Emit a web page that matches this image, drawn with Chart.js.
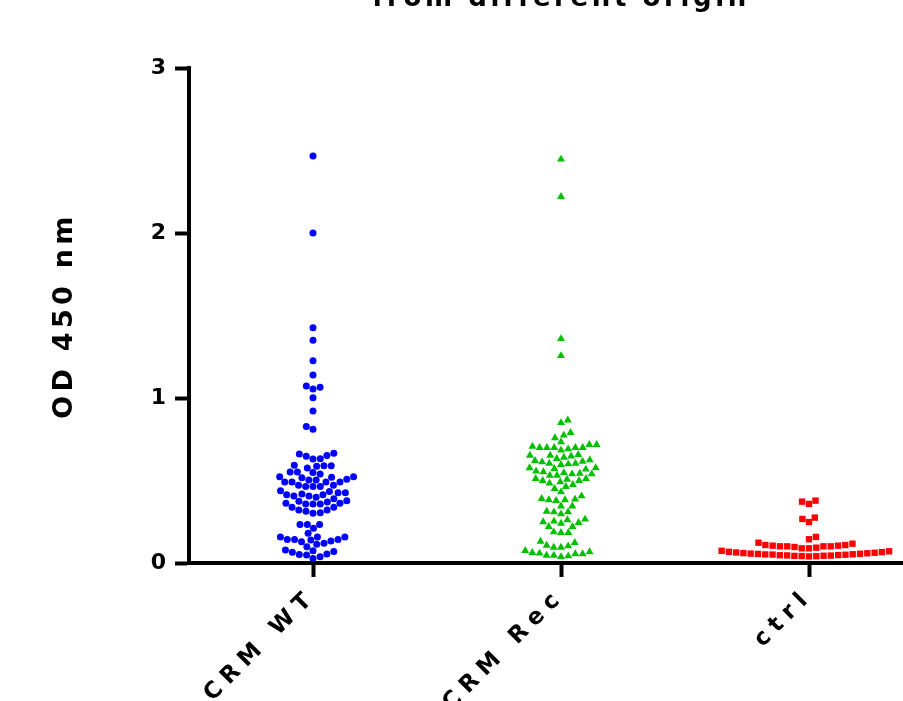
<!DOCTYPE html>
<html lang="en">
<head>
<meta charset="UTF-8">
<title>OD 450 nm from different origin</title>
<script src="https://cdn.jsdelivr.net/npm/chart.js@4"></script>
<style>
  html, body {
    margin: 0;
    padding: 0;
    width: 903px;
    height: 701px;
    overflow: hidden;
    background: #fff;
  }
  .chart-box {
    position: absolute;
    left: 0;
    top: -40px;
    width: 950px;
    height: 780px;
  }
</style>
</head>
<body>
<div class="chart-box"><canvas id="swarm"></canvas></div>
<script>
// groups on the x axis
const categories = ['CRM WT', 'CRM Rec', 'ctrl'];
const yTicks = [0, 1, 2, 3];

// OD readings
const crmWT = [
  2.467, 2.000, 1.426, 1.350, 1.226, 1.139, 1.065, 1.055, 1.073, 1.002, 0.921,
  0.828, 0.810,
  0.665, 0.651, 0.632, 0.630, 0.647, 0.661,
  0.590, 0.590, 0.576, 0.586, 0.592,
  0.540, 0.523, 0.517, 0.552, 0.552, 0.523, 0.548,
  0.491, 0.491, 0.503, 0.503, 0.507, 0.519, 0.491, 0.491,
  0.471, 0.463, 0.463, 0.463, 0.471,
  0.434, 0.426, 0.414, 0.406, 0.406, 0.414, 0.418, 0.426, 0.438,
  0.398, 0.378, 0.370, 0.358, 0.358, 0.362, 0.358, 0.362, 0.374, 0.390,
  0.338, 0.321, 0.305, 0.301, 0.313, 0.321, 0.338,
  0.234, 0.234, 0.234, 0.210,
  0.180,
  0.158, 0.158, 0.143, 0.143, 0.129, 0.133, 0.139, 0.143, 0.158,
  0.113, 0.119, 0.099,
  0.069, 0.055, 0.079, 0.049, 0.075, 0.065, 0.051,
  0.028, 0.038
];
const crmRec = [
  2.447, 2.220, 1.359, 1.256,
  0.866, 0.850,
  0.790, 0.774, 0.758,
  0.733,
  0.717, 0.707, 0.699, 0.699, 0.691, 0.683, 0.699, 0.699, 0.699, 0.717,
  0.652, 0.648, 0.632, 0.620, 0.624, 0.640, 0.652, 0.657,
  0.612, 0.604, 0.596, 0.576, 0.572, 0.568, 0.576, 0.600, 0.604, 0.616,
  0.552, 0.539, 0.539, 0.531, 0.511, 0.507, 0.511, 0.531, 0.543, 0.547, 0.556,
  0.499, 0.491, 0.475, 0.451, 0.463, 0.483, 0.499,
  0.430, 0.406,
  0.386, 0.382, 0.378, 0.382, 0.390,
  0.345, 0.345,
  0.309, 0.297, 0.309, 0.313,
  0.265, 0.249, 0.245, 0.240, 0.253, 0.261, 0.220, 0.220,
  0.184, 0.184, 0.188,
  0.131, 0.123, 0.107, 0.095, 0.095, 0.103,
  0.067, 0.059, 0.055, 0.042, 0.038, 0.046, 0.046, 0.055, 0.063, 0.075
];
const ctrl = [
  0.378, 0.358, 0.372,
  0.267, 0.248, 0.275,
  0.144, 0.158,
  0.123, 0.109, 0.105, 0.101, 0.101, 0.097, 0.089, 0.089, 0.093, 0.101, 0.101, 0.105, 0.109, 0.117,
  0.040, 0.041, 0.042, 0.043, 0.044, 0.045, 0.046, 0.047, 0.048, 0.050, 0.051, 0.052,
  0.053, 0.055, 0.056, 0.057, 0.059, 0.060, 0.062, 0.064, 0.066, 0.068, 0.071, 0.074
];

const groups = [crmWT, crmRec, ctrl];
const FONT = 'DejaVu Sans';
const DOT = 7.3; // swarm spacing in px

Chart.defaults.color = '#000';
Chart.defaults.font.family = FONT;

// greedy beeswarm: each point goes as close to the centre as it can without touching
function swarm(values, toPx, d) {
  const order = values.map((v, i) => i).sort((a, b) => values[a] - values[b]);
  const placed = [];
  const off = new Array(values.length);
  let flip = false;
  for (const i of order) {
    const y = toPx(values[i]);
    const near = placed.filter(p => Math.abs(p.y - y) < d);
    const cands = [0];
    near.forEach(p => {
      const dx = Math.sqrt(d * d - (p.y - y) ** 2);
      cands.push(p.x + dx, p.x - dx);
    });
    cands.sort((a, b) => (Math.abs(a) - Math.abs(b)) || (flip ? a - b : b - a));
    const x = cands.find(c => near.every(p => (p.x - c) ** 2 + (p.y - y) ** 2 >= d * d - 1e-6));
    placed.push({ x, y });
    off[i] = x;
    if (x !== 0) flip = !flip;
  }
  return off;
}

const titlePlugin = {
  id: 'topTitle',
  afterDraw(chart) {
    const { ctx, chartArea } = chart;
    ctx.save();
    ctx.font = `bold 26px "${FONT}"`;
    ctx.letterSpacing = '3.6px';
    ctx.fillStyle = '#000';
    ctx.textAlign = 'center';
    ctx.textBaseline = 'alphabetic';
    ctx.fillText('from different origin', (chartArea.left + chartArea.right) / 2, 46);
    ctx.restore();
  }
};

const ctx = document.getElementById('swarm').getContext('2d');
const chart = new Chart(ctx, {
  type: 'scatter',
  data: {
    datasets: [
      {
        label: categories[0],
        data: crmWT.map(v => ({ x: 0, y: v })),
        pointStyle: 'circle',
        pointRadius: 3.5,
        pointBorderWidth: 0,
        backgroundColor: '#0000ff',
        borderColor: '#0000ff'
      },
      {
        label: categories[1],
        data: crmRec.map(v => ({ x: 1, y: v })),
        pointStyle: 'triangle',
        pointRadius: 4.6,
        pointBorderWidth: 0,
        backgroundColor: '#00c000',
        borderColor: '#00c000'
      },
      {
        label: categories[2],
        data: ctrl.map(v => ({ x: 2, y: v })),
        pointStyle: 'rect',
        pointRadius: 4.5,
        pointBorderWidth: 0,
        backgroundColor: '#ff0000',
        borderColor: '#ff0000'
      }
    ]
  },
  options: {
    responsive: true,
    maintainAspectRatio: false,
    animation: false,
    layout: { padding: { left: 0, right: 17, top: 108, bottom: 0 } },
    plugins: {
      legend: { display: false },
      tooltip: { enabled: false },
      title: { display: false }
    },
    scales: {
      x: {
        type: 'linear',
        min: -0.5,
        max: 2.5,
        afterBuildTicks: scale => {
          scale.ticks = categories.map((c, i) => ({ value: i }));
        },
        afterFit: scale => { scale.height = 177; },
        grid: {
          drawOnChartArea: false,
          drawTicks: true,
          tickLength: 14,
          tickWidth: 4,
          color: '#000'
        },
        border: { display: true, color: '#000', width: 4 },
        ticks: {
          autoSkip: false,
          minRotation: 45,
          maxRotation: 45,
          padding: 6,
          font: { size: 23, weight: 'bold' },
          callback: v => categories[v]
        }
      },
      y: {
        min: 0,
        max: 3,
        afterBuildTicks: scale => {
          scale.ticks = yTicks.map(v => ({ value: v }));
        },
        afterFit: scale => { scale.width = 189; },
        grid: {
          drawOnChartArea: false,
          drawTicks: true,
          tickLength: 14,
          tickWidth: 4,
          color: '#000'
        },
        border: { display: true, color: '#000', width: 4 },
        ticks: {
          padding: 9,
          font: { size: 22, weight: 'bold' }
        },
        title: {
          display: true,
          text: 'OD 450 nm',
          font: { size: 27, weight: 'bold' },
          padding: { top: 49, bottom: 0 }
        }
      }
    }
  },
  plugins: [titlePlugin]
});

// wider letter spacing for the group names and the y title
function spaced(obj, fn, px) {
  const orig = obj[fn];
  obj[fn] = function (...args) {
    const c = this.ctx;
    c.save();
    c.letterSpacing = px;
    orig.apply(this, args);
    c.restore();
  };
}
spaced(chart.scales.x, 'drawLabels', '7px');
spaced(chart.scales.y, 'drawTitle', '4.3px');

// spread each group sideways
const xs = chart.scales.x;
const ys = chart.scales.y;
const unit = xs.getPixelForValue(1) - xs.getPixelForValue(0);
chart.data.datasets.forEach((ds, g) => {
  const offs = swarm(groups[g], v => ys.getPixelForValue(v), DOT);
  ds.data = groups[g].map((v, i) => ({ x: g + offs[i] / unit, y: v }));
});
chart.update('none');
</script>
</body>
</html>
